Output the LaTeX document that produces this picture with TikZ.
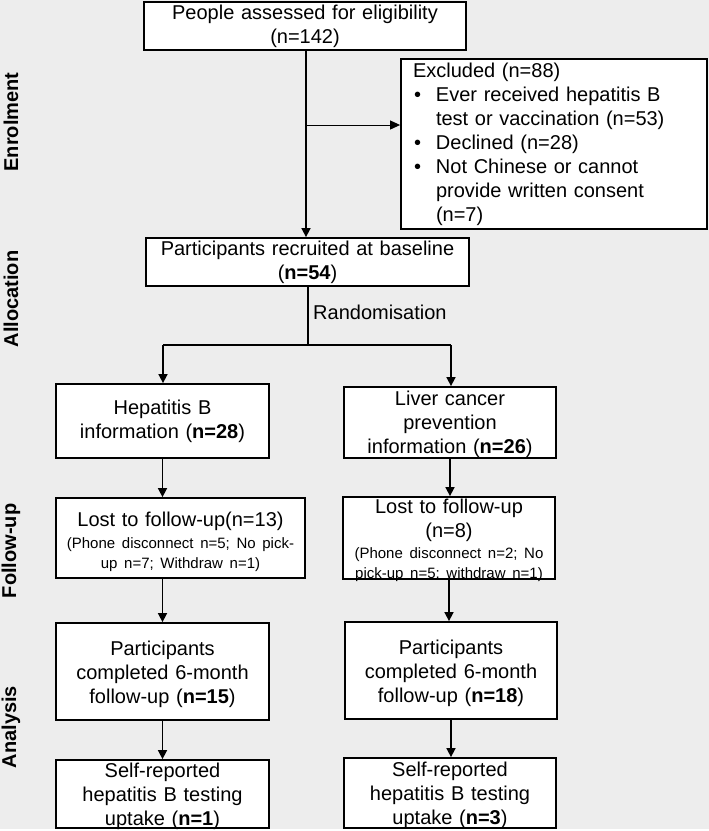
\documentclass[tikz,border=0pt]{standalone}
\usepackage{fontspec}
\setmainfont{Liberation Sans}
\usetikzlibrary{arrows.meta}
\definecolor{bggray}{RGB}{237,237,237}
\newcommand{\exbul}{\makebox[23pt][l]{\hspace{1pt}\textbullet}}
\newcommand{\exind}{\hspace*{23pt}}
\newcommand{\bigf}{\fontsize{20}{24}\selectfont}
\newcommand{\smallf}{\fontsize{15}{20}\selectfont}
\begin{document}
\begin{tikzpicture}[x=1pt,y=-1pt,
  box/.style={draw=black,line width=1.8pt,fill=white,inner sep=0pt,align=center,font=\bigf},
  stage/.style={rotate=90,font=\bfseries\bigf,inner sep=0pt},
  conn/.style={line width=1.6pt},
  arr/.style={line width=1.6pt,-{Triangle[length=9pt,width=9pt]}},
  thinarr/.style={line width=1pt,-{Triangle[length=10pt,width=9pt]}}]
\useasboundingbox (0,0) rectangle (709,831);
\fill[white] (0,0) rectangle (709,831);
\fill[bggray] (0,0) rectangle (709,829);

% stage labels
\node[stage] (lenrol) at (11,122) {Enrolment};
\node[stage] (lalloc) at (11,299) {Allocation};
\node[stage] (lfollow) at (11,551) {Follow-up};
\node[stage] (lanal) at (11,727) {Analysis};

% boxes
\node[box,minimum width=322pt,minimum height=48pt,text width=314pt] (assess) at (305,26)
  {People assessed for eligibility\\(n=142)};
\node[box,minimum width=306pt,minimum height=170pt,text width=282pt,align=left] (excl) at (554,144)
  {Excluded (n=88)\\
   \exbul Ever received hepatitis B\\
   \exind test or vaccination (n=53)\\
   \exbul Declined (n=28)\\
   \exbul Not Chinese or cannot\\
   \exind provide written consent\\
   \exind (n=7)};
\node[box,minimum width=323pt,minimum height=48pt,text width=315pt] (recruit) at (307.5,262)
  {Participants recruited at baseline\\(\textbf{n=54})};
\node[anchor=west,inner sep=0pt,font=\bigf] (rand) at (313,312) {Randomisation};

\node[box,minimum width=213pt,minimum height=74pt,text width=205pt] (hepb) at (162.5,421)
  {Hepatitis B\\information (\textbf{n=28})};
\node[box,minimum width=212pt,minimum height=71pt,text width=204pt] (liver) at (450,422.5)
  {Liver cancer\\prevention\\information \smash{(}\textbf{n=26}\smash{)}};

\node[box,minimum width=249pt,minimum height=80pt,text width=241pt] (lostl) at (180.5,538)
  {\bigf\rule{0pt}{22pt}Lost to follow-up(n=13)\par\vspace{2pt}
   \smallf (Phone disconnect n=5; No pick-\\up n=7; Withdraw n=1)\par};
\node[box,minimum width=212pt,minimum height=82pt,text width=204pt] (lostr) at (449,538)
  {\bigf Lost to follow-up\\(n=8)\par\vspace{1pt}
   \smallf (Phone disconnect n=2; No\\pick-up n=5; withdraw n=1)\par\kern-5pt};

\node[box,minimum width=213pt,minimum height=97pt,text width=205pt] (compl) at (162.5,671.5)
  {\rule{0pt}{21pt}Participants\\completed 6-month\\follow-up (\textbf{n=15})};
\node[box,minimum width=212pt,minimum height=97pt,text width=204pt] (compr) at (451,670.5)
  {\rule{0pt}{21pt}Participants\\completed 6-month\\follow-up (\textbf{n=18})};

\node[box,minimum width=213pt,minimum height=68pt,text width=205pt] (selfl) at (162.5,794)
  {Self-reported\\hepatitis B testing\\\smash{uptake (\textbf{n=1})}};
\node[box,minimum width=212pt,minimum height=70pt,text width=204pt] (selfr) at (450,793)
  {Self-reported\\hepatitis B testing\\\smash{uptake (\textbf{n=3})}};

% connectors
\coordinate (trunk) at (306,125);
\draw[arr] (assess.south -| trunk) -- (recruit.north -| trunk);
\draw[thinarr] (trunk) -- (excl.west |- trunk);

\coordinate (split) at (308,345);
\coordinate (bl) at (163,345);
\coordinate (br) at (451,345);
\draw[line width=1.2pt] (recruit.south -| split) -- (split);
\draw[conn] (bl) -- (br);
\draw[arr] (bl) -- (bl |- hepb.north);
\draw[arr] (br) -- (br |- liver.north);

\draw[arr] (hepb.south) -- (hepb.south |- lostl.north);
\draw[arr] (lostl.south -| hepb.center) -- (compl.north);
\draw[arr] (compl.south) -- (selfl.north);

\draw[arr] (liver.south) -- (liver.south |- lostr.north);
\draw[arr] (lostr.south) -- (lostr.south |- compr.north);
\draw[arr] (compr.south) -- (compr.south |- selfr.north);
\end{tikzpicture}
\end{document}
